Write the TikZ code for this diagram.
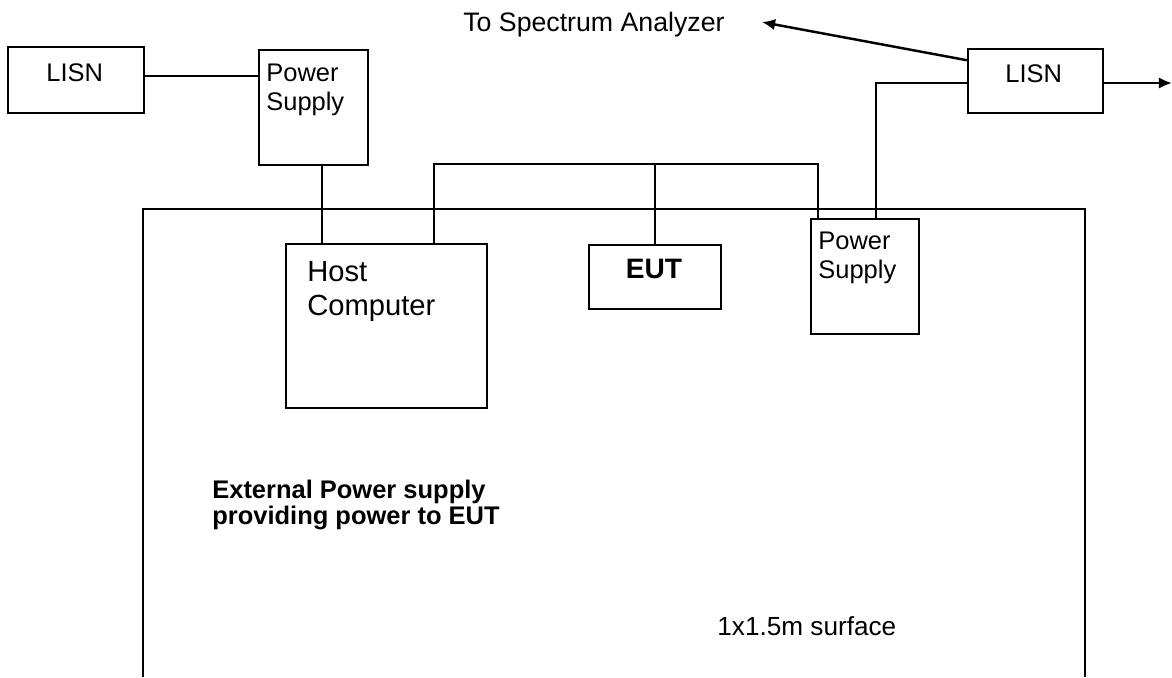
\documentclass[tikz,border=0pt]{standalone}
\usepackage{fontspec}
\setmainfont{Liberation Sans}
\usetikzlibrary{arrows.meta,positioning,calc}
\tikzset{
  unit/.style={draw,line width=1.4pt,inner sep=0pt,anchor=north west},
  wire/.style={line width=1.4pt},
  lbl/.style={inner sep=0pt,anchor=base west,align=left,
    font=\fontsize{14.5}{16.5}\selectfont},
  big/.style={lbl,font=\fontsize{16.6}{18.8}\selectfont},
}

\begin{document}
\begin{tikzpicture}[x=0.02cm,y=-0.02cm]
  \useasboundingbox (0,0) rectangle (1172,677);
  % test surface, open towards the bottom
  \draw[wire] (143,677) -- (143,209) -- (1085,209) -- (1085,677);
  % boxes
  \node[unit,minimum width=2.72cm,minimum height=1.32cm] (lisnL) at (7,46) {};
  \node[unit,minimum width=2.18cm,minimum height=2.30cm] (psL) at (258,49) {};
  \node[unit,minimum width=4.02cm,minimum height=3.28cm] (host) at (285,243) {};
  \node[unit,minimum width=2.64cm,minimum height=1.28cm] (eut) at (588,244) {};
  \node[unit,minimum width=2.16cm,minimum height=2.30cm] (psR) at (810,218) {};
  \node[unit,minimum width=2.70cm,minimum height=1.28cm] (lisnR) at (967,48) {};
  % texts (multi-line ones sit on the baseline of their last line)
  \node[lbl] (tLisnL) at (46,81) {LISN};
  \node[lbl] (tPsL) at (266,110) {Power\\Supply};
  \node[big] (tHost) at (307,315) {Host\\Computer};
  \node[lbl,anchor=base,font=\fontsize{16}{18}\selectfont\bfseries] (tEut) at (654,278) {EUT};
  \node[lbl] (tPsR) at (818,278) {Power\\Supply};
  \node[lbl] (tLisnR) at (1005,82) {LISN};
  \node[lbl,font=\fontsize{15.2}{17}\selectfont] (spec) at (463,31) {To Spectrum Analyzer};
  \node[lbl,font=\fontsize{14.5}{14.4}\selectfont\bfseries] (ext) at (212,524)
    {External Power supply\\providing power to EUT};
  \node[lbl,font=\fontsize{14.9}{17}\selectfont] (surf) at (717,635) {1x1.5m surface};
  % plug points on the boxes
  \coordinate (pA) at (322,243);
  \coordinate (pB) at (434,243);
  \coordinate (pE) at (655,244);
  \coordinate (pC) at (818,218);
  \coordinate (pD) at (876,218);
  \coordinate (bus) at (0,164);
  \coordinate (mains) at (1172,83);
  % wiring
  \draw[wire] ([yshift=0.08cm]lisnL.east) -- ([yshift=0.08cm]lisnL.east -| psL.west);
  \draw[wire] (psL.south -| pA) -- (pA);
  \draw[wire] (pB) -- (pB |- bus) -- (pC |- bus) -- (pC);
  \draw[wire] (pE) -- (pE |- bus);
  \draw[wire] (pD) -- (pD |- mains) -- (lisnR.west |- mains);
  \draw[wire,-{Latex[length=7.5pt,width=6.5pt]}] (lisnR.east |- mains) -- (mains);
  \draw[wire,-{Latex[length=7.5pt,width=6.5pt]}] ([yshift=0.42cm]lisnR.west)
    -- ([xshift=0.74cm,yshift=0.04cm]spec.east);
\end{tikzpicture}
\end{document}
